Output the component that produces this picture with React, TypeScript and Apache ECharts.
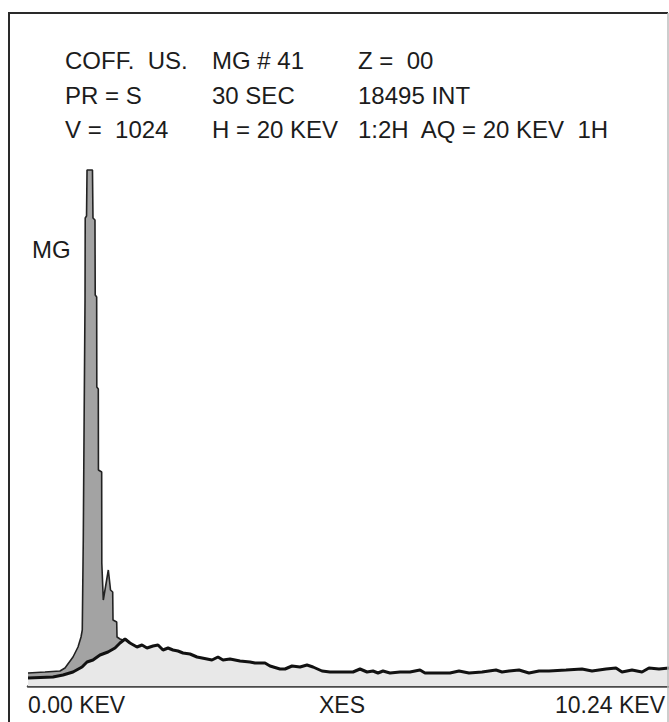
import React, { useEffect, useRef } from "react";
import * as echarts from "echarts";

// Energy axis (keV) and counts
const peakEnergy = [
  0, 0.272, 0.511, 0.591, 0.719, 0.799, 0.847, 0.867, 0.883, 0.899, 0.911, 0.914,
  0.935, 0.943, 1.03, 1.038, 1.07, 1.074, 1.097, 1.099, 1.123, 1.125, 1.177, 1.179,
  1.203, 1.283, 1.31, 1.318, 1.353, 1.358, 1.417, 1.422, 1.47, 1.518,
];
const peakCounts = [
  13, 14, 15, 18, 29, 39, 49, 56, 146, 286, 386, 468,
  470, 516, 516, 468, 466, 391, 389, 299, 297, 216, 214, 123,
  86, 116, 101, 96, 94, 66, 64, 49, 47, 46,
];

const contEnergy = [
  0, 0.399, 0.559, 0.719, 0.863, 0.943, 1.038, 1.15, 1.278, 1.39, 1.47, 1.55,
  1.629, 1.741, 1.821, 1.901, 1.997, 2.077, 2.157, 2.237, 2.316, 2.396, 2.476, 2.588,
  2.7, 2.86, 2.939, 3.035, 3.115, 3.227, 3.387, 3.546, 3.626, 3.786, 3.866, 4.026,
  4.106, 4.217, 4.345, 4.457, 4.553, 4.697, 4.824, 5.032, 5.192, 5.304, 5.416, 5.511,
  5.591, 5.671, 5.783, 5.943, 6.102, 6.262, 6.342, 6.47, 6.63, 6.741, 6.885, 7.045,
  7.253, 7.476, 7.572, 7.684, 7.844, 8.003, 8.163, 8.323, 8.595, 8.85, 9.01, 9.234,
  9.393, 9.489, 9.649, 9.809, 9.92, 10.08, 10.24,
];
const contCounts = [
  8, 9, 11, 14, 19, 24, 26, 31, 34, 38, 43, 47,
  43, 39, 41, 38, 40, 41, 36, 38, 36, 35, 33, 32,
  29, 27, 26, 29, 26, 27, 25, 24, 23, 23, 20, 17,
  17, 20, 19, 21, 19, 15, 14, 14, 14, 17, 14, 15,
  13, 15, 13, 14, 14, 16, 13, 13, 13, 13, 15, 13,
  14, 16, 14, 15, 16, 13, 15, 15, 16, 17, 15, 17,
  18, 14, 16, 14, 18, 17, 18,
];

const headerRows = [
  ["COFF.  US.", "MG # 41", "Z =  00"],
  ["PR = S", "30 SEC", "18495 INT"],
  ["V =  1024", "H = 20 KEV", "1:2H  AQ = 20 KEV  1H"],
];
const axisLabels = ["0.00 KEV", "XES", "10.24 KEV"];
const peakLabel = "MG";

const FONT = "'Liberation Sans', Arial, Helvetica, sans-serif";

export default function App() {
  const ref = useRef<HTMLDivElement>(null);

  useEffect(() => {
    if (!ref.current) return;
    const chart = echarts.init(ref.current, undefined, { renderer: "svg" });

    const colX = [65, 212, 358];
    const rowY = [60, 95, 129];
    const texts: any[] = [];
    headerRows.forEach((row, r) =>
      row.forEach((t, c) =>
        texts.push({
          type: "text",
          x: colX[c],
          y: rowY[r],
          style: {
            text: t,
            font: `24px ${FONT}`,
            fill: "#1c1c1c",
            textAlign: "left",
            textVerticalAlign: "middle",
          },
        })
      )
    );
    texts.push({
      type: "text",
      x: 32,
      y: 249,
      style: { text: peakLabel, font: `24px ${FONT}`, fill: "#1c1c1c", textVerticalAlign: "middle" },
    });
    const labelPos = [
      { x: 28, align: "left" },
      { x: 342, align: "center" },
      { x: 665, align: "right" },
    ];
    axisLabels.forEach((t, i) =>
      texts.push({
        type: "text",
        x: labelPos[i].x,
        y: 705,
        style: {
          text: t,
          font: `23px ${FONT}`,
          fill: "#1c1c1c",
          textAlign: labelPos[i].align,
          textVerticalAlign: "middle",
        },
      })
    );

    chart.setOption({
      animation: false,
      backgroundColor: "#ffffff",
      grid: { left: 28, right: 0, top: 166, bottom: 36 },
      xAxis: {
        type: "value",
        min: 0,
        max: 10.24,
        axisLine: { show: true, lineStyle: { color: "#4a4a4a", width: 2.5 } },
        axisTick: { show: false },
        axisLabel: { show: false },
        splitLine: { show: false },
      },
      yAxis: {
        type: "value",
        min: 0,
        max: 520,
        show: false,
        splitLine: { show: false },
      },
      series: [
        {
          type: "line",
          name: "total",
          data: peakEnergy.map((e, i) => [e, peakCounts[i]]),
          showSymbol: false,
          symbol: "none",
          lineStyle: { color: "#222", width: 1.6 },
          areaStyle: { color: "#a3a3a3", opacity: 1 },
          z: 2,
        },
        {
          type: "line",
          name: "continuum",
          data: contEnergy.map((e, i) => [e, contCounts[i]]),
          showSymbol: false,
          symbol: "none",
          lineStyle: { color: "#111", width: 3 },
          areaStyle: { color: "#e8e8e8", opacity: 1 },
          z: 3,
        },
      ],
      graphic: [
        {
          type: "polyline",
          shape: { points: [[9, 722], [9, 13], [668, 13]] },
          style: { fill: "none", stroke: "#2a2a2a", lineWidth: 2 },
          z: 10,
        },
        {
          type: "line",
          shape: { x1: 668, y1: 13, x2: 668, y2: 722 },
          style: { stroke: "#bdbdbd", lineWidth: 1.5 },
          z: 10,
        },
        ...texts,
      ],
    });

    return () => chart.dispose();
  }, []);

  return (
    <div
      ref={ref}
      style={{ position: "fixed", left: 0, top: 0, width: 669, height: 722, background: "#fff" }}
    />
  );
}
